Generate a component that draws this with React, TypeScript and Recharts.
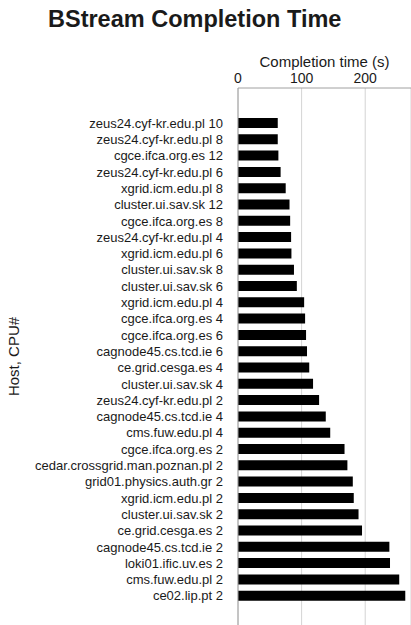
import React from "react";
import { BarChart, Bar, XAxis, YAxis, CartesianGrid } from "recharts";

const hosts = [
    "zeus24.cyf-kr.edu.pl 10",
    "zeus24.cyf-kr.edu.pl 8",
    "cgce.ifca.org.es 12",
    "zeus24.cyf-kr.edu.pl 6",
    "xgrid.icm.edu.pl 8",
    "cluster.ui.sav.sk 12",
    "cgce.ifca.org.es 8",
    "zeus24.cyf-kr.edu.pl 4",
    "xgrid.icm.edu.pl 6",
    "cluster.ui.sav.sk 8",
    "cluster.ui.sav.sk 6",
    "xgrid.icm.edu.pl 4",
    "cgce.ifca.org.es 4",
    "cgce.ifca.org.es 6",
    "cagnode45.cs.tcd.ie 6",
    "ce.grid.cesga.es 4",
    "cluster.ui.sav.sk 4",
    "zeus24.cyf-kr.edu.pl 2",
    "cagnode45.cs.tcd.ie 4",
    "cms.fuw.edu.pl 4",
    "cgce.ifca.org.es 2",
    "cedar.crossgrid.man.poznan.pl 2",
    "grid01.physics.auth.gr 2",
    "xgrid.icm.edu.pl 2",
    "cluster.ui.sav.sk 2",
    "ce.grid.cesga.es 2",
    "cagnode45.cs.tcd.ie 2",
    "loki01.ific.uv.es 2",
    "cms.fuw.edu.pl 2",
    "ce02.lip.pt 2",
];

const completionTimes = [
    62.5, 62.5, 63.5, 67, 75, 81, 82, 83.5, 84, 88,
    92.5, 104, 105.5, 107, 108.5, 112, 118, 127.5, 138, 145,
    167.5, 172, 180.5, 182, 189.5, 195, 238, 239, 253.5, 263,
];

const timeTicks = [0, 100, 200];

const data = hosts.map((host, i) => ({ host, time: completionTimes[i] }));

const font = '"Liberation Sans", Arial, sans-serif';

const App: React.FC = () => {
    return (
        <div style={{ position: "absolute", left: 0, top: 0, width: 411, height: 625, fontFamily: font }}>
            <div
                style={{
                    position: "absolute",
                    left: 48,
                    top: 6,
                    fontSize: 23.5,
                    fontWeight: "bold",
                    color: "#1a1a1a",
                    whiteSpace: "nowrap",
                }}
            >
                BStream Completion Time
            </div>
            <BarChart
                width={411}
                height={625}
                data={data}
                layout="vertical"
                margin={{ top: 48, right: 0, bottom: 0, left: 0 }}
                barSize={10}
            >
                <CartesianGrid horizontal={false} vertical={true} stroke="#d4d4d4" />
                <XAxis
                    type="number"
                    orientation="top"
                    domain={[0, 272]}
                    ticks={timeTicks}
                    height={40}
                    tickLine={false}
                    tickSize={3}
                    tickMargin={2}
                    axisLine={{ stroke: "#a0a0a0" }}
                    tick={{ fill: "#1a1a1a", fontSize: 14, fontFamily: font }}
                    label={{
                        value: "Completion time (s)",
                        position: "insideTop",
                        offset: 8,
                        fill: "#1a1a1a",
                        fontSize: 15,
                        fontFamily: font,
                    }}
                />
                <YAxis
                    type="category"
                    dataKey="host"
                    width={238}
                    interval={0}
                    padding={{ top: 27, bottom: 21 }}
                    tickLine={false}
                    tickSize={0}
                    tickMargin={15}
                    axisLine={{ stroke: "#a0a0a0" }}
                    tick={{ fill: "#1a1a1a", fontSize: 13, fontFamily: font }}
                    label={{
                        value: "Host, CPU#",
                        angle: -90,
                        position: "insideLeft",
                        offset: 14,
                        fill: "#1a1a1a",
                        fontSize: 15,
                        fontFamily: font,
                        style: { textAnchor: "middle" },
                    }}
                />
                <Bar dataKey="time" fill="#000000" isAnimationActive={false} />
            </BarChart>
        </div>
    );
};

export default App;
